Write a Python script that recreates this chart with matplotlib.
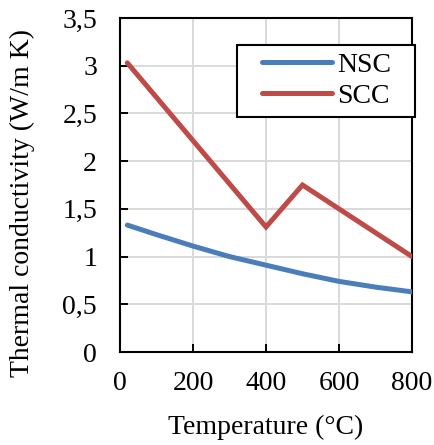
import numpy as np
import matplotlib.pyplot as plt
from matplotlib.patches import Rectangle
from matplotlib.ticker import FuncFormatter

# Temperature (°C) and thermal conductivity (W/m K)
nsc_temp = [20, 100, 200, 300, 400, 500, 600, 700, 800]
nsc_k = [1.33, 1.23, 1.11, 1.00, 0.91, 0.82, 0.74, 0.68, 0.63]

scc_temp = [20, 400, 500, 800]
scc_k = [3.03, 1.31, 1.75, 1.00]

x_ticks = [0, 200, 400, 600, 800]
y_ticks = [0, 0.5, 1, 1.5, 2, 2.5, 3, 3.5]

plt.rcParams['font.family'] = ['Liberation Serif', 'DejaVu Serif']
plt.rcParams['font.size'] = 20

fig = plt.figure(figsize=(4.35, 4.45), dpi=100)
ax = fig.add_axes([120 / 435, 93 / 445, 292 / 435, 334 / 445])

ax.plot(nsc_temp, nsc_k, color='#4a7ebb', lw=3.6, solid_capstyle='round',
        solid_joinstyle='round', label='NSC', zorder=3)
ax.plot(scc_temp, scc_k, color='#be4b48', lw=3.6, solid_capstyle='round',
        solid_joinstyle='miter', label='SCC', zorder=3)

ax.set_xlim(0, 800)
ax.set_ylim(0, 3.5)
ax.set_xticks(x_ticks)
ax.set_yticks(y_ticks)
ax.yaxis.set_major_formatter(FuncFormatter(lambda v, p: ('%g' % v).replace('.', ',')))
ax.grid(True, color='#d9d9d9', lw=1.4)
ax.set_axisbelow(True)
ax.tick_params(direction='in', length=6, width=1.4)
ax.tick_params(axis='x', pad=14)
ax.tick_params(axis='y', pad=16.5)
for s in ax.spines.values():
    s.set_linewidth(1.5)

ax.set_xlabel('Temperature (°C)', labelpad=13)
ax.set_ylabel('Thermal conductivity (W/m K)')
ax.yaxis.set_label_coords(-0.29, 0.445)

# legend box
box = Rectangle((237 / 435, 1 - 117 / 445), 178 / 435, 72 / 445,
                transform=fig.transFigure, facecolor='white', edgecolor='black',
                lw=1.5, clip_on=False, zorder=4)
ax.add_patch(box)
leg = ax.legend(loc='center left', bbox_to_anchor=(262 / 435, 1 - 80.5 / 445),
                bbox_transform=fig.transFigure, borderaxespad=0, borderpad=0,
                frameon=False, handlelength=2.52, handletextpad=0.18,
                labelspacing=0.2, fontsize=20)
leg.set_zorder(5)

fig.savefig('out.png', dpi=100)
